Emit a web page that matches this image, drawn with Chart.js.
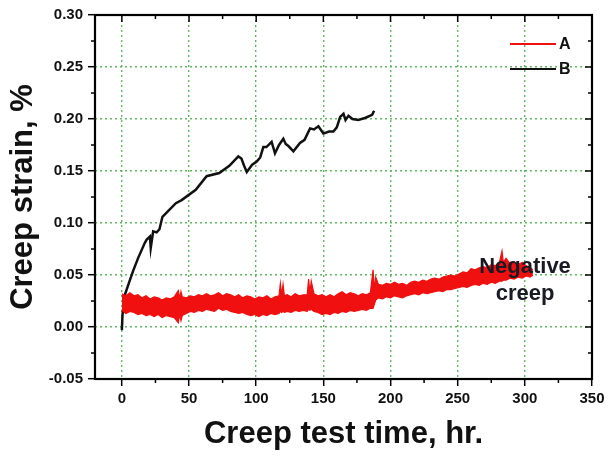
<!DOCTYPE html>
<html>
<head>
<meta charset="utf-8">
<script src="https://cdn.jsdelivr.net/npm/chart.js@4.4.0/dist/chart.umd.min.js"></script>
<style>
  body { margin: 0; background: #fff; }
</style>
</head>
<body>
<canvas id="creepChart" width="611" height="461"></canvas>
<script>
// --- data ---
// sample A: noisy band, kept as upper / lower edge
const timeA = [0, 3, 6, 9, 12, 15, 18, 21, 24, 27, 30, 33, 36, 39,
  42, 43, 44, 45,
  48, 51, 54, 57, 60, 63, 66, 69, 72, 75, 78, 81, 84, 87, 90, 93, 96, 99, 102, 105, 108, 111, 114,
  117, 118, 119, 120, 121,
  123, 126, 129, 132, 135,
  138, 139, 140, 141,
  143, 146, 149, 152, 155, 158, 161, 164, 167, 170, 173, 176, 179, 182, 185,
  187, 188, 189,
  191, 194, 197, 200, 203, 206, 209, 212, 215, 218, 221, 224, 227, 230, 233, 236, 239, 242, 245, 248, 251, 254, 257,
  260, 263, 266, 269, 272, 275, 278, 281,
  283, 284,
  286, 289, 292, 295, 298, 301, 304, 306];
const upperA = [0.032, 0.030, 0.033, 0.030, 0.031, 0.028, 0.030, 0.027, 0.029, 0.028, 0.026, 0.028, 0.027, 0.029,
  0.035, 0.028, 0.034, 0.029,
  0.028, 0.030, 0.029, 0.031, 0.030, 0.032, 0.030, 0.031, 0.033, 0.030, 0.032, 0.031, 0.029, 0.031, 0.028, 0.030, 0.029,
  0.027, 0.029, 0.028, 0.030, 0.027, 0.029,
  0.030, 0.042, 0.031, 0.041, 0.030,
  0.031, 0.029, 0.032, 0.030, 0.031,
  0.031, 0.046, 0.033, 0.044,
  0.032, 0.030, 0.031, 0.029, 0.031, 0.029, 0.032, 0.034, 0.031, 0.033, 0.032, 0.030, 0.032, 0.031, 0.033,
  0.055, 0.036, 0.048,
  0.041, 0.040, 0.042, 0.041, 0.043, 0.041, 0.042, 0.040, 0.043, 0.044, 0.043, 0.045, 0.044, 0.046, 0.047, 0.046, 0.048,
  0.049, 0.050, 0.049, 0.051, 0.053, 0.052, 0.056, 0.055, 0.057, 0.058, 0.057, 0.060, 0.059, 0.062,
  0.073, 0.062,
  0.066, 0.061, 0.063, 0.060, 0.062, 0.059, 0.057, 0.055];
const lowerA = [0.016, 0.013, 0.015, 0.014, 0.012, 0.013, 0.011, 0.012, 0.010, 0.012, 0.009, 0.011, 0.010, 0.009,
  0.004, 0.012, 0.006, 0.011,
  0.013, 0.015, 0.014, 0.016, 0.015, 0.017, 0.016, 0.015, 0.018, 0.016, 0.017, 0.015, 0.014, 0.013, 0.014, 0.012, 0.011,
  0.012, 0.010, 0.012, 0.011, 0.013, 0.012,
  0.013, 0.015, 0.014, 0.015, 0.014,
  0.015, 0.014, 0.016, 0.015, 0.016,
  0.015, 0.017, 0.016, 0.017,
  0.015, 0.014, 0.012, 0.013, 0.012, 0.014, 0.013, 0.015, 0.014, 0.016, 0.015, 0.016, 0.017, 0.016, 0.018,
  0.018, 0.022, 0.026,
  0.028, 0.027, 0.029, 0.028, 0.030, 0.029, 0.028, 0.030, 0.031, 0.032, 0.031, 0.033, 0.032, 0.033, 0.034, 0.035, 0.034,
  0.036, 0.036, 0.037, 0.038, 0.039, 0.038, 0.040, 0.041, 0.040, 0.042, 0.041, 0.043, 0.042, 0.044,
  0.044, 0.045,
  0.045, 0.047, 0.046, 0.048, 0.047, 0.049, 0.048, 0.050];

// sample B
const timeB = [0, 0.5, 2, 5.4, 8.4, 12, 17.1, 18.5, 20.9, 21.5, 23.3, 25.9, 28, 30.2, 33.3, 40.2, 44.5, 55, 63.1, 72.5,
  80, 86.7, 89, 91, 93, 97, 100.4, 103, 105.3, 107.6, 111.5, 114, 117, 120.2, 122, 124, 127.7, 132.6, 136, 140.1, 143,
  146.3, 150, 154.2, 157.5, 160, 162.5, 165, 166.5, 168.7, 171.7, 176, 181, 186.3, 187.8];
const strainB = [-0.003, 0.012, 0.030, 0.043, 0.054, 0.066, 0.081, 0.084, 0.087, 0.076, 0.092, 0.091, 0.094, 0.106,
  0.110, 0.119, 0.122, 0.132, 0.145, 0.148, 0.155, 0.164, 0.162, 0.155, 0.149, 0.156, 0.159, 0.163, 0.173, 0.173, 0.178,
  0.167, 0.175, 0.181, 0.176, 0.174, 0.169, 0.177, 0.180, 0.191, 0.190, 0.193, 0.186, 0.188, 0.188, 0.192, 0.202, 0.205,
  0.199, 0.203, 0.200, 0.199, 0.201, 0.204, 0.208];

const xTicks = [0, 50, 100, 150, 200, 250, 300, 350];
const xMinor = [25, 75, 125, 175, 225, 275, 325];
const yTicks = [-0.05, 0, 0.05, 0.10, 0.15, 0.20, 0.25, 0.30];
const yMinor = [-0.025, 0.025, 0.075, 0.125, 0.175, 0.225, 0.275];

const seriesNames = ['A', 'B'];
const seriesColors = ['#f01010', '#111111'];

const FONT = 'Arial, "Liberation Sans", sans-serif';

function pairs(xs, ys) {
    return xs.map((v, i) => ({ x: v, y: ys[i] }));
}

// frame, inner ticks, legend and note
const framePlugin = {
    id: 'frameAndNotes',
    afterDatasetsDraw(chart) {
        const { ctx, chartArea: a, scales: { x, y } } = chart;
        ctx.save();
        ctx.strokeStyle = '#000';
        ctx.lineWidth = 1.5;
        const seg = (x1, y1, x2, y2) => { ctx.beginPath(); ctx.moveTo(x1, y1); ctx.lineTo(x2, y2); ctx.stroke(); };
        xTicks.forEach(v => { const p = x.getPixelForValue(v); seg(p, a.top, p, a.top + 7); });
        xMinor.forEach(v => {
            const p = x.getPixelForValue(v);
            seg(p, a.top, p, a.top + 4);
            seg(p, a.bottom, p, a.bottom + 4);
        });
        yTicks.forEach(v => { const p = y.getPixelForValue(v); seg(a.right, p, a.right - 7, p); });
        yMinor.forEach(v => {
            const p = y.getPixelForValue(v);
            seg(a.right, p, a.right - 4, p);
            seg(a.left, p, a.left - 4, p);
        });
        ctx.lineWidth = 2.2;
        ctx.strokeRect(a.left, a.top, a.right - a.left, a.bottom - a.top);

        // legend
        seriesNames.forEach((name, i) => {
            const ly = 44 + i * 25;
            ctx.strokeStyle = seriesColors[i];
            ctx.lineWidth = 2;
            seg(510, ly, 556, ly);
            ctx.fillStyle = '#111';
            ctx.font = 'bold 16px ' + FONT;
            ctx.textBaseline = 'middle';
            ctx.textAlign = 'left';
            ctx.fillText(name, 559, ly + 1);
        });

        // note
        ctx.fillStyle = '#1a1a24';
        ctx.font = 'bold 22px ' + FONT;
        ctx.textAlign = 'center';
        ctx.fillText('Negative', 525, 267);
        ctx.fillText('creep', 525, 294);
        ctx.restore();
    }
};

const gridStyle = {
    color: 'rgba(80, 175, 80, 0.9)',
    lineWidth: 1.4,
    tickColor: '#000',
    tickLength: 7,
    tickWidth: 1.5
};
const borderStyle = { display: false, dash: [2, 3] };

new Chart(document.getElementById('creepChart'), {
    type: 'line',
    data: {
        datasets: [
            {
                label: 'A low',
                data: pairs(timeA, lowerA),
                borderColor: seriesColors[0],
                borderWidth: 1.2,
                pointRadius: 0,
                fill: false
            },
            {
                label: seriesNames[0],
                data: pairs(timeA, upperA),
                borderColor: seriesColors[0],
                backgroundColor: seriesColors[0],
                borderWidth: 1.2,
                pointRadius: 0,
                fill: '-1'
            },
            {
                label: seriesNames[1],
                data: pairs(timeB, strainB),
                borderColor: seriesColors[1],
                borderWidth: 2.5,
                pointRadius: 0,
                fill: false
            }
        ]
    },
    options: {
        responsive: false,
        animation: false,
        layout: { padding: { top: 15, right: 19, left: 0, bottom: 0 } },
        plugins: {
            legend: { display: false },
            tooltip: { enabled: false }
        },
        scales: {
            x: {
                type: 'linear',
                min: -20,
                max: 350,
                afterBuildTicks: s => { s.ticks = xTicks.map(v => ({ value: v })); },
                afterFit: s => { s.height = 82; },
                grid: gridStyle,
                border: borderStyle,
                ticks: {
                    color: '#111',
                    padding: 4,
                    maxRotation: 0,
                    font: { family: FONT, size: 15, weight: 'bold' }
                },
                title: {
                    display: true,
                    text: 'Creep test time, hr.',
                    color: '#111',
                    padding: { top: 0, bottom: 8 },
                    font: { family: FONT, size: 31, weight: 'bold' }
                }
            },
            y: {
                min: -0.05,
                max: 0.30,
                afterBuildTicks: s => { s.ticks = yTicks.map(v => ({ value: v })); },
                afterFit: s => { s.width = 95; },
                grid: gridStyle,
                border: borderStyle,
                ticks: {
                    color: '#111',
                    padding: 5,
                    callback: v => v.toFixed(2),
                    font: { family: FONT, size: 15, weight: 'bold' }
                },
                title: {
                    display: true,
                    text: 'Creep strain, %',
                    color: '#111',
                    padding: { top: 5, bottom: 0 },
                    font: { family: FONT, size: 31, weight: 'bold' }
                }
            }
        }
    },
    plugins: [framePlugin]
});
</script>
</body>
</html>
